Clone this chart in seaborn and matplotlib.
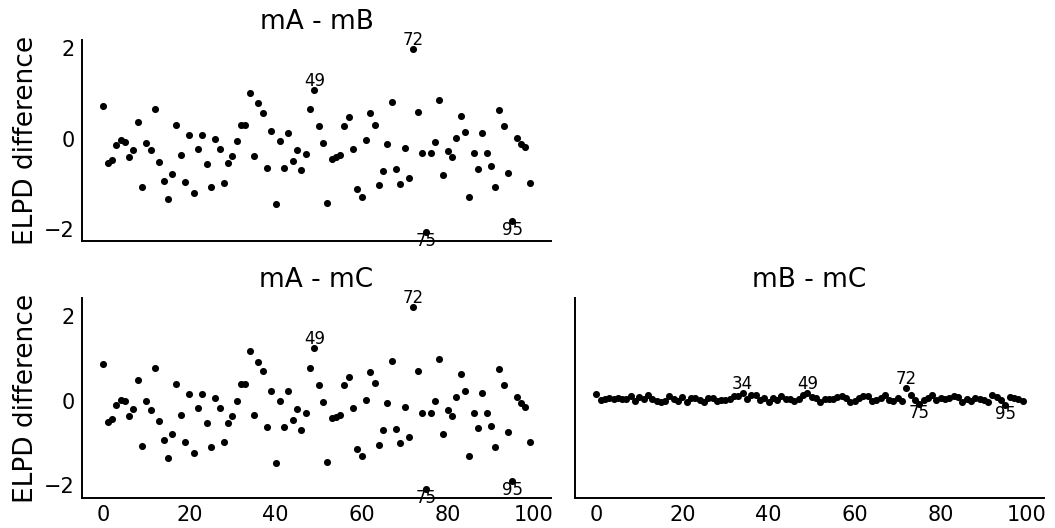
import numpy as np
import pandas as pd
import matplotlib
matplotlib.use("Agg")
import matplotlib.pyplot as plt
import seaborn as sns

# ---- data ----
idx = list(range(100))

mA_mB = [0.73, -0.54, -0.47, -0.15, -0.02, -0.08, -0.41, -0.24, 0.37, -1.07,
         -0.10, -0.26, 0.66, -0.51, -0.93, -1.33, -0.79, 0.30, -0.37, -0.96,
         0.08, -1.21, -0.23, 0.09, -0.56, -1.07, -0.01, -0.23, -0.97, -0.54,
         -0.39, -0.06, 0.30, 0.30, 1.02, -0.38, 0.79, 0.56, -0.65, 0.16,
         -1.44, -0.06, -0.65, 0.13, -0.50, -0.24, -0.70, -0.33, 0.65, 1.08,
         0.29, -0.10, -1.43, -0.45, -0.41, -0.37, 0.27, 0.47, -0.22, -1.11,
         -1.29, -0.04, 0.56, 0.31, -1.03, -0.72, -0.12, 0.81, -0.68, -1.01,
         -0.20, -0.86, 1.98, 0.59, -0.32, -2.06, -0.32, -0.07, 0.85, -0.80,
         -0.28, -0.40, 0.01, 0.51, 0.15, -1.28, -0.32, -0.66, 0.13, -0.32,
         -0.61, -1.07, 0.63, 0.29, -0.76, -1.83, 0.01, -0.12, -0.19, -0.97]

mA_mC = [0.87, -0.52, -0.44, -0.10, 0.02, -0.01, -0.37, -0.20, 0.48, -1.08,
         -0.02, -0.22, 0.78, -0.48, -0.94, -1.36, -0.80, 0.40, -0.34, -0.98,
         0.16, -1.24, -0.18, 0.16, -0.54, -1.11, 0.06, -0.17, -0.98, -0.53,
         -0.37, -0.02, 0.40, 0.40, 1.17, -0.35, 0.92, 0.69, -0.64, 0.23,
         -1.48, 0.00, -0.64, 0.23, -0.46, -0.20, -0.70, -0.30, 0.77, 1.24,
         0.37, -0.03, -1.47, -0.42, -0.38, -0.34, 0.36, 0.57, -0.17, -1.15,
         -1.31, 0.02, 0.67, 0.41, -1.05, -0.71, -0.06, 0.95, -0.67, -1.02,
         -0.15, -0.87, 2.22, 0.71, -0.30, -2.10, -0.30, -0.01, 0.98, -0.79,
         -0.22, -0.37, 0.08, 0.62, 0.23, -1.31, -0.29, -0.66, 0.19, -0.29,
         -0.60, -1.10, 0.75, 0.37, -0.75, -1.90, 0.09, -0.07, -0.15, -0.98]

mB_mC = [0.16, 0.02, 0.03, 0.05, 0.04, 0.07, 0.04, 0.04, 0.11, -0.01,
         0.08, 0.04, 0.12, 0.03, -0.01, -0.03, -0.01, 0.10, 0.03, -0.02,
         0.08, -0.03, 0.05, 0.07, 0.02, -0.04, 0.07, 0.06, -0.01, 0.01,
         0.02, 0.04, 0.10, 0.10, 0.17, 0.03, 0.13, 0.13, 0.01, 0.07,
         -0.04, 0.06, 0.01, 0.10, 0.04, 0.04, 0.00, 0.03, 0.12, 0.18,
         0.08, 0.07, -0.04, 0.03, 0.03, 0.03, 0.09, 0.10, 0.05, -0.04,
         -0.02, 0.06, 0.11, 0.10, -0.02, 0.01, 0.06, 0.14, 0.01, -0.01,
         0.05, -0.01, 0.30, 0.12, 0.02, -0.08, 0.02, 0.06, 0.13, 0.01,
         0.06, 0.03, 0.07, 0.11, 0.08, -0.03, 0.03, 0.00, 0.06, 0.03,
         0.01, -0.03, 0.12, 0.08, 0.01, -0.10, 0.08, 0.05, 0.04, -0.01]

titles = ["mA - mB", "mA - mC", "mB - mC"]
labels_AB = [49, 72, 75, 95]
labels_AC = [49, 72, 75, 95]
labels_BC = [34, 49, 72, 75, 95]
xticks = [0, 20, 40, 60, 80, 100]
yticks = [-2, 0, 2]

sns.set_style("white")
plt.rcParams["font.family"] = ["DejaVu Sans"]
plt.rcParams["text.color"] = "black"
plt.rcParams["axes.labelcolor"] = "black"
plt.rcParams["xtick.color"] = "black"
plt.rcParams["ytick.color"] = "black"

fig = plt.figure(figsize=(10.55, 5.28), dpi=100)
ax_tl = fig.add_axes([0.0777, 0.5436, 0.4445, 0.3807])
ax_bl = fig.add_axes([0.0777, 0.0568, 0.4445, 0.3788], sharex=ax_tl)
ax_br = fig.add_axes([0.5450, 0.0568, 0.4445, 0.3788], sharex=ax_tl, sharey=ax_bl)

panels = [
    (ax_tl, mA_mB, labels_AB, titles[0]),
    (ax_bl, mA_mC, labels_AC, titles[1]),
    (ax_br, mB_mC, labels_BC, titles[2]),
]

for ax, vals, labs, title in panels:
    df = pd.DataFrame({"i": idx, "v": vals})
    sns.scatterplot(data=df, x="i", y="v", ax=ax, color="black", s=26,
                    linewidth=0, legend=False)
    for k in labs:
        y = vals[k]
        ax.text(k, y, str(k), ha="center", color="black",
                va="bottom" if y > 0 else "top", fontsize=12)
    ax.set_title(title, fontsize=19, pad=8, color="black")
    ax.set_xlabel("")
    ax.set_ylabel("")
    sns.despine(ax=ax)
    for sp in ["left", "bottom"]:
        ax.spines[sp].set_linewidth(1.4)
        ax.spines[sp].set_color("black")
    ax.tick_params(axis="both", length=0, pad=5, labelsize=15,
                   labelcolor="black")
    ax.set_yticks(yticks)
    ax.grid(False)

ax_tl.set_xticks(xticks)
ax_tl.tick_params(axis="x", labelbottom=False)
ax_br.tick_params(axis="y", labelleft=False)
ax_tl.set_ylabel("ELPD difference", fontsize=19, color="black")
ax_bl.set_ylabel("ELPD difference", fontsize=19, color="black")

fig.savefig("out.png", dpi=100)
